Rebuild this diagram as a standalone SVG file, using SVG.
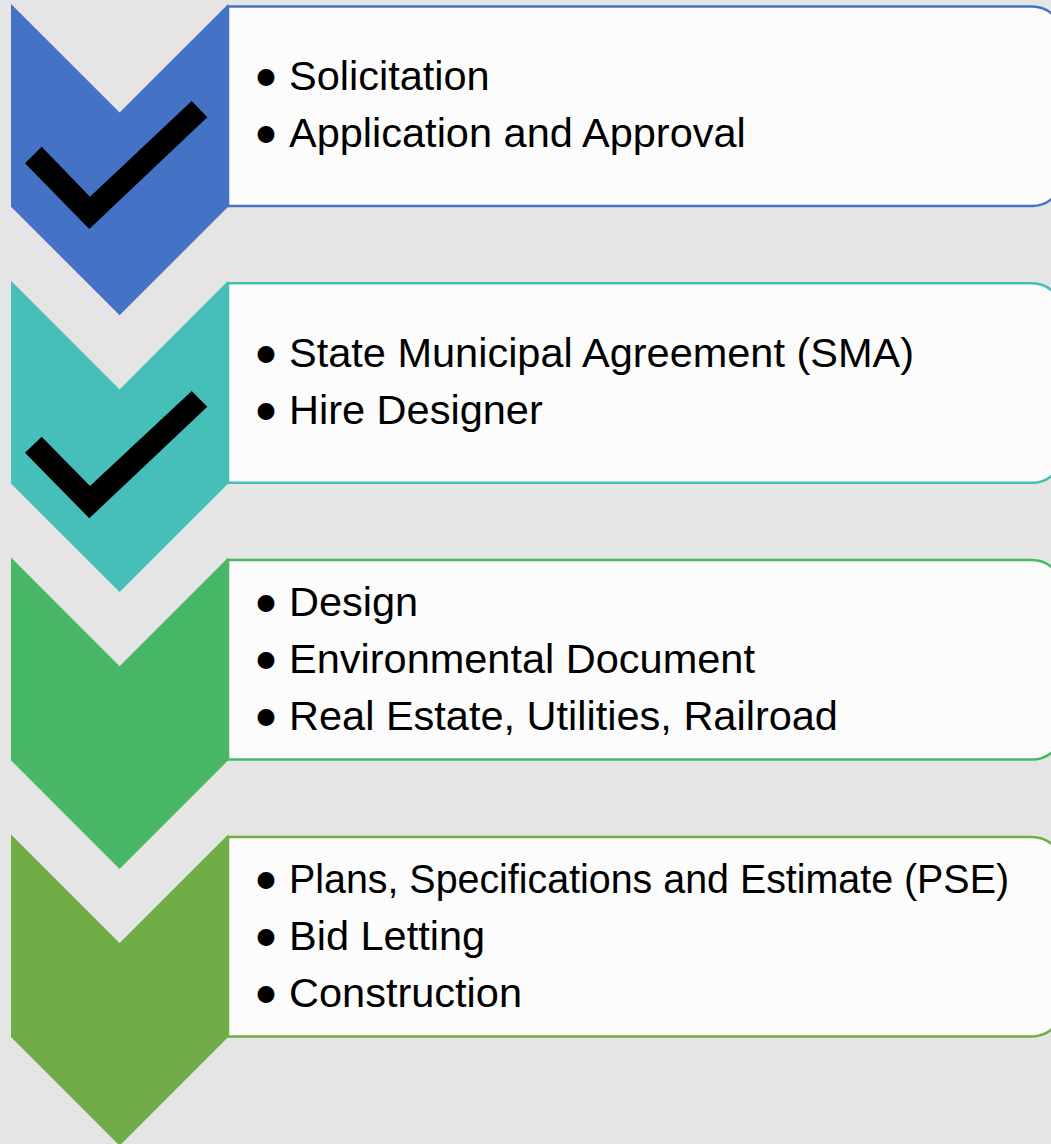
<svg xmlns="http://www.w3.org/2000/svg" width="1051" height="1144" viewBox="0 0 1051 1144">
<style>
.box{fill:#fcfcfc;stroke-width:2.5}
.t{font-family:"Liberation Sans",Arial,sans-serif;font-size:41.5px;fill:#000}
.bl{font-family:"DejaVu Sans",sans-serif;font-size:44px;stroke:#000;stroke-width:4;stroke-linejoin:round}
.chk{fill:#000}
</style>
<defs>
<path id="chev" d="M11,4 L119.6,112.6 L228.2,4 L228.2,206.7 L119.6,315.3 L11,206.7 Z"/>
<path id="card" d="M228,2.5 H1032 A31,31 0 0 1 1063,33.5 V171 A31,31 0 0 1 1032,202 H228 Z"/>
</defs>
<rect width="1051" height="1144" fill="#e5e5e5"/>

<g id="step1">
<use href="#card" class="box" stroke="#4472c4" transform="translate(0,4)"/>
<use href="#chev" fill="#4472c4"/>
<polygon class="chk" points="25,163.3 41.7,146.7 90,196.7 191.7,101 207.3,117.3 89.3,229"/>
<text class="t"><tspan class="bl" x="253" y="94">•</tspan><tspan x="289" y="90">Solicitation</tspan></text>
<text class="t"><tspan class="bl" x="253" y="151">•</tspan><tspan x="289" y="147">Application and Approval</tspan></text>
</g>

<g id="step2">
<use href="#card" class="box" stroke="#45bfb8" transform="translate(0,280.8)"/>
<use href="#chev" fill="#45bfb8" transform="translate(0,276.8)"/>
<polygon class="chk" points="25,452.7 41.7,436.7 90,486 191.7,391 207.3,406.7 89.3,518.3"/>
<text class="t"><tspan class="bl" x="253" y="371">•</tspan><tspan x="289" y="367">State Municipal Agreement (SMA)</tspan></text>
<text class="t"><tspan class="bl" x="253" y="428">•</tspan><tspan x="289" y="424">Hire Designer</tspan></text>
</g>

<g id="step3">
<use href="#card" class="box" stroke="#48b766" transform="translate(0,557.6)"/>
<use href="#chev" fill="#48b766" transform="translate(0,553.6)"/>
<text class="t"><tspan class="bl" x="253" y="619.5">•</tspan><tspan x="289" y="615.5">Design</tspan></text>
<text class="t"><tspan class="bl" x="253" y="676.5">•</tspan><tspan x="289" y="672.5">Environmental Document</tspan></text>
<text class="t"><tspan class="bl" x="253" y="733.5">•</tspan><tspan x="289" y="729.5">Real Estate, Utilities, Railroad</tspan></text>
</g>

<g id="step4">
<use href="#card" class="box" stroke="#70ad47" transform="translate(0,834.4)"/>
<use href="#chev" fill="#70ad47" transform="translate(0,830.4)"/>
<text class="t"><tspan class="bl" x="253" y="896.5">•</tspan><tspan x="289" y="892.5" textLength="720" lengthAdjust="spacingAndGlyphs">Plans, Specifications and Estimate (PSE)</tspan></text>
<text class="t"><tspan class="bl" x="253" y="953.5">•</tspan><tspan x="289" y="949.5">Bid Letting</tspan></text>
<text class="t"><tspan class="bl" x="253" y="1010.5">•</tspan><tspan x="289" y="1006.5">Construction</tspan></text>
</g>

<g id="connectors"></g>
</svg>
